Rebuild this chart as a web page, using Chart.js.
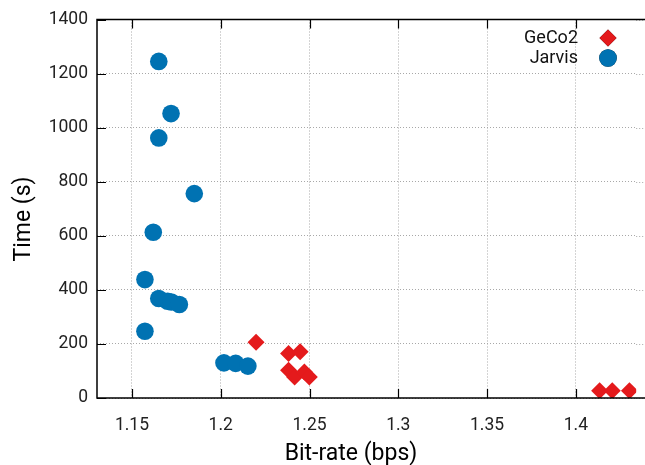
<!DOCTYPE html>
<html><head><meta charset="utf-8">
<script src="https://cdn.jsdelivr.net/npm/chart.js@4/dist/chart.umd.min.js"></script>
<style>html,body{margin:0;padding:0;background:#fff}#wrap{width:645px;height:465px}</style>
</head><body><div id="wrap"><canvas id="c" width="645" height="465"></canvas></div>
<script>
const seriesNames = ['GeCo2', 'Jarvis'];
const geco2Rate = [1.2199, 1.2382, 1.2447, 1.2382, 1.2416, 1.2471, 1.2499, 1.4134, 1.4205, 1.4302];
const geco2Time = [206, 165, 171, 103, 78, 96, 78, 27, 27, 27];
const jarvisRate = [1.1651, 1.1720, 1.1651, 1.1851, 1.1620, 1.1573, 1.1651, 1.1701, 1.1722, 1.1767, 1.1573, 1.2018, 1.2084, 1.2153];
const jarvisTime = [1245, 1052, 962, 756, 613, 438, 368, 358, 355, 346, 247, 130, 128, 118];
const xTicks = [1.15, 1.2, 1.25, 1.3, 1.35, 1.4];
const yTicks = [0, 200, 400, 600, 800, 1000, 1200, 1400];
const xTitle = 'Bit-rate (bps)';
const yTitle = 'Time (s)';

const RED = '#e41a1c', BLUE = '#0072b2';
const FONT = 'Roboto';

const toPts = (xs, ys) => xs.map((x, i) => ({x, y: ys[i]}));

const framePlugin = {
  id: 'frame',
  beforeDatasetsDraw(chart) {
    const {ctx, chartArea: a, scales} = chart;
    ctx.save();
    ctx.strokeStyle = '#a8a8a8';
    ctx.lineWidth = 1;
    ctx.setLineDash([1, 2]);
    ctx.beginPath();
    yTicks.forEach(v => {
      const py = Math.round(scales.y.getPixelForValue(v)) + 0.5;
      ctx.moveTo(a.right, py); ctx.lineTo(chart.width, py);
    });
    ctx.stroke();
    ctx.restore();
  },
  afterDatasetsDraw(chart) {
    const {ctx, chartArea: a, scales} = chart;
    ctx.save();
    ctx.strokeStyle = '#000';
    ctx.lineWidth = 1.5;
    ctx.beginPath();
    ctx.moveTo(chart.width, a.top); ctx.lineTo(a.left, a.top);
    ctx.lineTo(a.left, a.bottom); ctx.lineTo(chart.width, a.bottom);
    ctx.stroke();
    ctx.lineWidth = 1.2;
    const tl = 9;
    ctx.beginPath();
    xTicks.forEach(v => {
      const px = Math.round(scales.x.getPixelForValue(v)) + 0.5;
      ctx.moveTo(px, a.bottom); ctx.lineTo(px, a.bottom - tl);
      ctx.moveTo(px, a.top); ctx.lineTo(px, a.top + tl);
    });
    yTicks.forEach(v => {
      const py = Math.round(scales.y.getPixelForValue(v)) + 0.5;
      ctx.moveTo(a.left, py); ctx.lineTo(a.left + tl, py);
    });
    ctx.stroke();
    // axis titles
    ctx.fillStyle = '#000';
    ctx.font = '23px ' + FONT;
    ctx.textAlign = 'center';
    ctx.textBaseline = 'middle';
    ctx.fillText(xTitle, 351, 454);
    ctx.translate(24, 219);
    ctx.rotate(-Math.PI / 2);
    ctx.fillText(yTitle, 0, 0);
    ctx.restore();
    // legend
    ctx.save();
    ctx.font = '18px ' + FONT;
    ctx.fillStyle = '#111';
    ctx.textAlign = 'right';
    ctx.textBaseline = 'middle';
    const rows = [38, 58];
    chart.data.datasets.forEach((ds, i) => {
      ctx.fillText(ds.label, 578, rows[i]);
      Chart.helpers.drawPoint(ctx, {pointStyle: ds.pointStyle, radius: ds.pointRadius, borderWidth: 0}, 608, rows[i]);
      ctx.fillStyle = ds.backgroundColor;
      ctx.fill();
      ctx.fillStyle = '#111';
    });
    ctx.restore();
  }
};

new Chart(document.getElementById('c'), {
  type: 'scatter',
  data: {
    datasets: [
      {label: seriesNames[0], data: toPts(geco2Rate, geco2Time), pointStyle: 'rectRot', pointRadius: 8.5, pointHoverRadius: 8.5, backgroundColor: RED, borderColor: RED, borderWidth: 0},
      {label: seriesNames[1], data: toPts(jarvisRate, jarvisTime), pointStyle: 'circle', pointRadius: 8.8, pointHoverRadius: 8.8, backgroundColor: BLUE, borderColor: BLUE, borderWidth: 0}
    ]
  },
  options: {
    responsive: false,
    animation: false,
    events: [],
    layout: {padding: {top: 18.5, right: 0, left: 0, bottom: 0}},
    plugins: {legend: {display: false}, tooltip: {enabled: false}},
    scales: {
      x: {
        type: 'linear', min: 1.1303, max: 1.434,
        afterBuildTicks: s => { s.ticks = xTicks.map(v => ({value: v})); },
        afterFit: s => { s.height = 67; s.paddingRight = 0; s.paddingLeft = 0; },
        ticks: {padding: 17, color: '#222', font: {family: FONT, size: 17.5}, maxRotation: 0, autoSkip: false,
          callback: v => String(v)},
        grid: {color: '#a8a8a8', lineWidth: 1, drawTicks: false},
        border: {display: false, dash: [1, 2]}
      },
      y: {
        type: 'linear', min: 0, max: 1400,
        afterBuildTicks: s => { s.ticks = yTicks.map(v => ({value: v})); },
        afterFit: s => { s.width = 97; },
        ticks: {padding: 9, color: '#222', font: {family: FONT, size: 17.5}, autoSkip: false,
          callback: v => String(v)},
        grid: {color: '#a8a8a8', lineWidth: 1, drawTicks: false},
        border: {display: false, dash: [1, 2]}
      }
    }
  },
  plugins: [framePlugin]
});
</script></body></html>
